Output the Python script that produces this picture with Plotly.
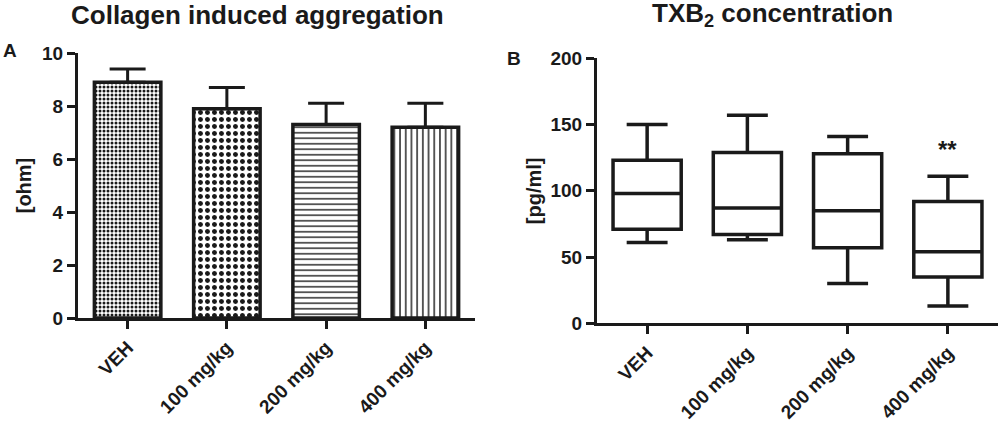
import plotly.graph_objects as go
from plotly.subplots import make_subplots

#? data
groups = ["VEH", "100 mg/kg", "200 mg/kg", "400 mg/kg"]

# panel A - collagen induced aggregation (mean + SEM, ohm)
agg_mean = [8.9, 7.9, 7.3, 7.2]
agg_err = [0.5, 0.8, 0.8, 0.9]
agg_patterns = [".", ".", "-", "|"]

# panel B - TXB2 concentration (pg/ml)
txb_min = [61, 63, 30, 13]
txb_q1 = [71, 67, 57, 35]
txb_med = [98, 87, 85, 54]
txb_q3 = [123, 129, 128, 92]
txb_max = [150, 157, 141, 111]
sig_label = "**"
sig_y = 131

FONT = "Liberation Sans"
BLACK = "#1a1a1a"

fig = make_subplots(rows=1, cols=2)

# pattern settings per bar (size, solidity)
pat_size = [4, 7, 5.5, 5.7]
pat_solid = [0.45, 0.4, 0.25, 0.25]

for i, g in enumerate(groups):
    fig.add_trace(go.Bar(
        x=[g], y=[agg_mean[i]],
        width=0.67,
        marker=dict(color="white", line=dict(color=BLACK, width=3.5),
                    pattern=dict(shape=agg_patterns[i], fgcolor=BLACK, bgcolor="white",
                                 size=pat_size[i], solidity=pat_solid[i], fillmode="replace")),
        error_y=dict(type="data", array=[agg_err[i]], arrayminus=[0], symmetric=False,
                     color=BLACK, thickness=3, width=18),
        showlegend=False), row=1, col=1)

for i, g in enumerate(groups):
    fig.add_trace(go.Box(
        x=[g], q1=[txb_q1[i]], median=[txb_med[i]], q3=[txb_q3[i]],
        lowerfence=[txb_min[i]], upperfence=[txb_max[i]],
        width=0.68, whiskerwidth=0.6,
        fillcolor="white", line=dict(color=BLACK, width=3.5),
        showlegend=False), row=1, col=2)

fig.add_annotation(x=groups[3], y=sig_y, xref="x2", yref="y2", text=sig_label,
                   showarrow=False, font=dict(family=FONT, size=24, color=BLACK, weight="bold"))

axis_common = dict(showline=True, linecolor=BLACK, linewidth=3, ticks="outside",
                   tickwidth=3, ticklen=8, tickcolor=BLACK, showgrid=False, zeroline=False,
                   automargin=False,
                   tickfont=dict(family=FONT, size=19, color=BLACK, weight="bold"))
axtitle_font = dict(family=FONT, size=20, color=BLACK, weight="bold")

fig.update_xaxes(axis_common, tickangle=-45, range=[-0.5, 3.5])
fig.update_xaxes(domain=[0.078, 0.475], row=1, col=1)
fig.update_xaxes(domain=[0.597, 0.998], row=1, col=2)
fig.update_yaxes(axis_common)
fig.update_yaxes(domain=[0.25, 0.875], range=[0, 10], dtick=2, row=1, col=1,
                 title=dict(text="[ohm]", standoff=6, font=axtitle_font))
fig.update_yaxes(domain=[0.2375, 0.8625], range=[0, 200], dtick=50, row=1, col=2,
                 title=dict(text="[pg/ml]", standoff=4, font=axtitle_font))

title_font = dict(family=FONT, size=26, color=BLACK, weight="bold")
fig.add_annotation(x=0.257, y=0.965, xref="paper", yref="paper", text="Collagen induced aggregation",
                   xanchor="center", yanchor="middle", showarrow=False, font=title_font)
fig.add_annotation(x=0.772, y=0.965, xref="paper", yref="paper", text="TXB<sub>2</sub> concentration",
                   xanchor="center", yanchor="middle", showarrow=False, font=title_font)
fig.add_annotation(x=0.010, y=0.882, xref="paper", yref="paper", text="A",
                   xanchor="center", yanchor="middle", showarrow=False,
                   font=dict(family=FONT, size=19, color=BLACK, weight="bold"))
fig.add_annotation(x=0.514, y=0.861, xref="paper", yref="paper", text="B",
                   xanchor="center", yanchor="middle", showarrow=False,
                   font=dict(family=FONT, size=19, color=BLACK, weight="bold"))

fig.update_layout(
    width=1000, height=424,
    margin=dict(l=0, r=0, t=0, b=0),
    plot_bgcolor="white", paper_bgcolor="white",
    bargap=0.33,
)

# drop the default page margin so the figure sits at the window corner
fig.write_html("out.html", config={"displayModeBar": False},
               post_script="document.body.style.margin='0px';")
